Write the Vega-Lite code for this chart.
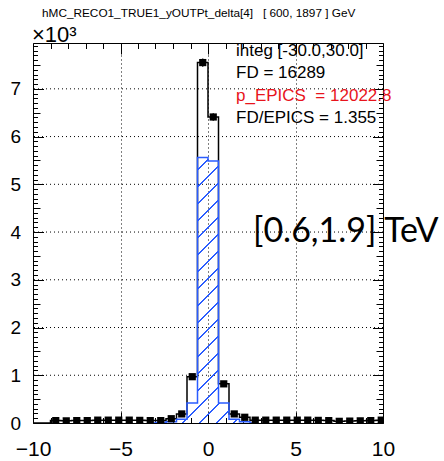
{
  "$schema": "https://vega.github.io/schema/vega-lite/v6.json",
  "width": 350,
  "height": 380,
  "autosize": "none",
  "padding": {"left": 33, "top": 43, "right": 61, "bottom": 38},
  "background": "white",
  "config": {"view": {"stroke": "black", "strokeWidth": 1}, "font": "Liberation Sans", "axis": {"grid": false}},
  "title": {"text": "hMC_RECO1_TRUE1_yOUTPt_delta[4]\u00a0\u00a0 [ 600, 1897 ] GeV", "anchor": "start", "frame": "group", "fontSize": 11.8, "fontWeight": "normal", "font": "Liberation Sans", "color": "black", "dx": 9, "offset": 4},
  "datasets": {
    "hist": [
      {"x": -10.5, "fd": 0},
      {"x": -9.9, "fd": 0},
      {"x": -9.3, "fd": 0},
      {"x": -8.7, "fd": 0.05},
      {"x": -8.1, "fd": 0.045},
      {"x": -7.5, "fd": 0.05},
      {"x": -6.9, "fd": 0.05},
      {"x": -6.3, "fd": 0.06},
      {"x": -5.7, "fd": 0.06},
      {"x": -5.1, "fd": 0.06},
      {"x": -4.5, "fd": 0.06},
      {"x": -3.9, "fd": 0.055},
      {"x": -3.3, "fd": 0.05, "ep": 0},
      {"x": -2.7, "fd": 0.05, "ep": 0.01},
      {"x": -2.1, "fd": 0.09, "ep": 0.025, "lo": 0.081, "hi": 0.099},
      {"x": -1.5, "fd": 0.19, "ep": 0.08, "lo": 0.176, "hi": 0.204},
      {"x": -0.9, "fd": 0.97, "ep": 0.42, "lo": 0.939, "hi": 1.001},
      {"x": -0.3, "fd": 7.55, "ep": 5.56, "lo": 7.463, "hi": 7.637},
      {"x": 0.3, "fd": 6.41, "ep": 5.49, "lo": 6.33, "hi": 6.49},
      {"x": 0.9, "fd": 0.82, "ep": 0.42, "lo": 0.791, "hi": 0.849},
      {"x": 1.5, "fd": 0.19, "ep": 0.08, "lo": 0.176, "hi": 0.204},
      {"x": 2.1, "fd": 0.12, "ep": 0.025, "lo": 0.109, "hi": 0.131},
      {"x": 2.7, "fd": 0.06, "ep": 0},
      {"x": 3.3, "fd": 0.06},
      {"x": 3.9, "fd": 0.06},
      {"x": 4.5, "fd": 0.06},
      {"x": 5.1, "fd": 0.06},
      {"x": 5.7, "fd": 0.06},
      {"x": 6.3, "fd": 0.055},
      {"x": 6.9, "fd": 0.05},
      {"x": 7.5, "fd": 0.035},
      {"x": 8.1, "fd": 0.04},
      {"x": 8.7, "fd": 0.045},
      {"x": 9.3, "fd": 0.05},
      {"x": 9.9, "fd": 0.06},
      {"x": 10.5, "fd": 0}
    ]
  },
  "layer": [
    {
      "data": {"name": "hist"},
      "mark": {"type": "line", "interpolate": "step", "color": "black", "strokeWidth": 1.5, "clip": true},
      "encoding": {
        "x": {"field": "x", "type": "quantitative", "scale": {"domain": [-10, 10], "nice": false, "zero": false},
          "axis": {"orient": "bottom", "title": null, "domain": false,
            "values": [-10,-9,-8,-7,-6,-5,-4,-3,-2,-1,0,1,2,3,4,5,6,7,8,9,10],
            "tickColor": "black", "tickWidth": 1,
            "tickSize": {"condition": {"test": "datum.value % 5 === 0", "value": -11}, "value": -5.5},
            "labelExpr": "datum.value % 5 === 0 ? datum.label : ''",
            "labelFont": "Liberation Sans", "labelFontSize": 21, "labelColor": "black", "labelPadding": 26, "labelFlush": false, "labelOverlap": false,
            "grid": true, "gridColor": "black", "gridDash": [1, 3], "gridWidth": 1,
            "gridOpacity": {"condition": {"test": "datum.value % 5 === 0 && abs(datum.value) < 10", "value": 1}, "value": 0}}},
        "y": {"field": "fd", "type": "quantitative", "scale": {"domain": [0, 7.96], "nice": false, "zero": false},
          "axis": {"orient": "left", "title": null, "domain": false, "grid": false,
            "values": [0,0.1,0.2,0.3,0.4,0.5,0.6,0.7,0.8,0.9,1,1.1,1.2,1.3,1.4,1.5,1.6,1.7,1.8,1.9,2,2.1,2.2,2.3,2.4,2.5,2.6,2.7,2.8,2.9,3,3.1,3.2,3.3,3.4,3.5,3.6,3.7,3.8,3.9,4,4.1,4.2,4.3,4.4,4.5,4.6,4.7,4.8,4.9,5,5.1,5.2,5.3,5.4,5.5,5.6,5.7,5.8,5.9,6,6.1,6.2,6.3,6.4,6.5,6.6,6.7,6.8,6.9,7,7.1,7.2,7.3,7.4,7.5,7.6,7.7,7.8,7.9],
            "tickColor": "black", "tickWidth": 1,
            "tickSize": {"condition": [{"test": "abs(datum.value - round(datum.value)) < 0.01", "value": -10.5}, {"test": "abs(datum.value * 2 - round(datum.value * 2)) < 0.01", "value": -7}], "value": -4.5},
            "labelExpr": "abs(datum.value - round(datum.value)) < 0.01 ? format(round(datum.value), 'd') : ''",
            "labelFont": "Liberation Sans", "labelFontSize": 19, "labelColor": "black", "labelPadding": 23, "labelOverlap": false, "labelFlush": false}}
      }
    },
    {
      "data": {"values": [{"g": 1}, {"g": 2}, {"g": 3}, {"g": 4}, {"g": 5}, {"g": 6}, {"g": 7}]},
      "mark": {"type": "rule", "color": "black", "strokeWidth": 1, "strokeDash": [1, 3]},
      "encoding": {
        "y": {"field": "g", "type": "quantitative", "axis": null}
      }
    },
    {
      "data": {"name": "hist"},
      "mark": {"type": "area", "interpolate": "step", "clip": true,
        "fill": {"gradient": "linear", "x1": 0, "y1": 0, "x2": 0.4774, "y2": 1.2068, "stops": [
          {"offset": 0.0207, "color": "rgba(255,255,255,0)"}, {"offset": 0.0207, "color": "#2a5cff"}, {"offset": 0.0253, "color": "#2a5cff"}, {"offset": 0.0253, "color": "rgba(255,255,255,0)"},
          {"offset": 0.0666, "color": "rgba(255,255,255,0)"}, {"offset": 0.0666, "color": "#2a5cff"}, {"offset": 0.0712, "color": "#2a5cff"}, {"offset": 0.0712, "color": "rgba(255,255,255,0)"},
          {"offset": 0.1125, "color": "rgba(255,255,255,0)"}, {"offset": 0.1125, "color": "#2a5cff"}, {"offset": 0.1171, "color": "#2a5cff"}, {"offset": 0.1171, "color": "rgba(255,255,255,0)"},
          {"offset": 0.1584, "color": "rgba(255,255,255,0)"}, {"offset": 0.1584, "color": "#2a5cff"}, {"offset": 0.1630, "color": "#2a5cff"}, {"offset": 0.1630, "color": "rgba(255,255,255,0)"},
          {"offset": 0.2043, "color": "rgba(255,255,255,0)"}, {"offset": 0.2043, "color": "#2a5cff"}, {"offset": 0.2089, "color": "#2a5cff"}, {"offset": 0.2089, "color": "rgba(255,255,255,0)"},
          {"offset": 0.2502, "color": "rgba(255,255,255,0)"}, {"offset": 0.2502, "color": "#2a5cff"}, {"offset": 0.2548, "color": "#2a5cff"}, {"offset": 0.2548, "color": "rgba(255,255,255,0)"},
          {"offset": 0.2961, "color": "rgba(255,255,255,0)"}, {"offset": 0.2961, "color": "#2a5cff"}, {"offset": 0.3007, "color": "#2a5cff"}, {"offset": 0.3007, "color": "rgba(255,255,255,0)"},
          {"offset": 0.3420, "color": "rgba(255,255,255,0)"}, {"offset": 0.3420, "color": "#2a5cff"}, {"offset": 0.3466, "color": "#2a5cff"}, {"offset": 0.3466, "color": "rgba(255,255,255,0)"},
          {"offset": 0.3879, "color": "rgba(255,255,255,0)"}, {"offset": 0.3879, "color": "#2a5cff"}, {"offset": 0.3925, "color": "#2a5cff"}, {"offset": 0.3925, "color": "rgba(255,255,255,0)"},
          {"offset": 0.4338, "color": "rgba(255,255,255,0)"}, {"offset": 0.4338, "color": "#2a5cff"}, {"offset": 0.4384, "color": "#2a5cff"}, {"offset": 0.4384, "color": "rgba(255,255,255,0)"},
          {"offset": 0.4797, "color": "rgba(255,255,255,0)"}, {"offset": 0.4797, "color": "#2a5cff"}, {"offset": 0.4843, "color": "#2a5cff"}, {"offset": 0.4843, "color": "rgba(255,255,255,0)"},
          {"offset": 0.5256, "color": "rgba(255,255,255,0)"}, {"offset": 0.5256, "color": "#2a5cff"}, {"offset": 0.5302, "color": "#2a5cff"}, {"offset": 0.5302, "color": "rgba(255,255,255,0)"},
          {"offset": 0.5715, "color": "rgba(255,255,255,0)"}, {"offset": 0.5715, "color": "#2a5cff"}, {"offset": 0.5761, "color": "#2a5cff"}, {"offset": 0.5761, "color": "rgba(255,255,255,0)"},
          {"offset": 0.6174, "color": "rgba(255,255,255,0)"}, {"offset": 0.6174, "color": "#2a5cff"}, {"offset": 0.6220, "color": "#2a5cff"}, {"offset": 0.6220, "color": "rgba(255,255,255,0)"},
          {"offset": 0.6633, "color": "rgba(255,255,255,0)"}, {"offset": 0.6633, "color": "#2a5cff"}, {"offset": 0.6679, "color": "#2a5cff"}, {"offset": 0.6679, "color": "rgba(255,255,255,0)"},
          {"offset": 0.7092, "color": "rgba(255,255,255,0)"}, {"offset": 0.7092, "color": "#2a5cff"}, {"offset": 0.7138, "color": "#2a5cff"}, {"offset": 0.7138, "color": "rgba(255,255,255,0)"},
          {"offset": 0.7551, "color": "rgba(255,255,255,0)"}, {"offset": 0.7551, "color": "#2a5cff"}, {"offset": 0.7597, "color": "#2a5cff"}, {"offset": 0.7597, "color": "rgba(255,255,255,0)"},
          {"offset": 0.8010, "color": "rgba(255,255,255,0)"}, {"offset": 0.8010, "color": "#2a5cff"}, {"offset": 0.8056, "color": "#2a5cff"}, {"offset": 0.8056, "color": "rgba(255,255,255,0)"},
          {"offset": 0.8469, "color": "rgba(255,255,255,0)"}, {"offset": 0.8469, "color": "#2a5cff"}, {"offset": 0.8515, "color": "#2a5cff"}, {"offset": 0.8515, "color": "rgba(255,255,255,0)"},
          {"offset": 0.8928, "color": "rgba(255,255,255,0)"}, {"offset": 0.8928, "color": "#2a5cff"}, {"offset": 0.8974, "color": "#2a5cff"}, {"offset": 0.8974, "color": "rgba(255,255,255,0)"},
          {"offset": 0.9387, "color": "rgba(255,255,255,0)"}, {"offset": 0.9387, "color": "#2a5cff"}, {"offset": 0.9433, "color": "#2a5cff"}, {"offset": 0.9433, "color": "rgba(255,255,255,0)"},
          {"offset": 0.9846, "color": "rgba(255,255,255,0)"}, {"offset": 0.9846, "color": "#2a5cff"}, {"offset": 0.9892, "color": "#2a5cff"}, {"offset": 0.9892, "color": "rgba(255,255,255,0)"}
        ]}},
      "encoding": {
        "x": {"field": "x", "type": "quantitative", "scale": {"domain": [-10, 10], "nice": false, "zero": false},
          "axis": {"orient": "top", "title": null, "domain": false, "labels": false, "grid": false,
            "values": [-10,-9,-8,-7,-6,-5,-4,-3,-2,-1,0,1,2,3,4,5,6,7,8,9,10],
            "tickColor": "black", "tickWidth": 1,
            "tickSize": {"condition": {"test": "datum.value % 5 === 0", "value": -11}, "value": -5.5}}},
        "y": {"field": "ep", "type": "quantitative", "scale": {"domain": [0, 7.96], "nice": false, "zero": false},
          "axis": {"orient": "right", "title": null, "domain": false, "labels": false, "grid": false,
            "values": [0,0.1,0.2,0.3,0.4,0.5,0.6,0.7,0.8,0.9,1,1.1,1.2,1.3,1.4,1.5,1.6,1.7,1.8,1.9,2,2.1,2.2,2.3,2.4,2.5,2.6,2.7,2.8,2.9,3,3.1,3.2,3.3,3.4,3.5,3.6,3.7,3.8,3.9,4,4.1,4.2,4.3,4.4,4.5,4.6,4.7,4.8,4.9,5,5.1,5.2,5.3,5.4,5.5,5.6,5.7,5.8,5.9,6,6.1,6.2,6.3,6.4,6.5,6.6,6.7,6.8,6.9,7,7.1,7.2,7.3,7.4,7.5,7.6,7.7,7.8,7.9],
            "tickColor": "black", "tickWidth": 1,
            "tickSize": {"condition": [{"test": "abs(datum.value - round(datum.value)) < 0.01", "value": -10.5}, {"test": "abs(datum.value * 2 - round(datum.value * 2)) < 0.01", "value": -7}], "value": -4.5}}}
      }
    },
    {
      "data": {"name": "hist"},
      "mark": {"type": "line", "interpolate": "step", "color": "#2a5cff", "strokeWidth": 1.5, "clip": true},
      "encoding": {
        "x": {"field": "x", "type": "quantitative", "axis": null},
        "y": {"field": "ep", "type": "quantitative", "axis": null}
      }
    },
    {
      "data": {"name": "hist"},
      "mark": {"type": "rule", "color": "black", "strokeWidth": 1.2, "clip": true},
      "encoding": {
        "x": {"field": "x", "type": "quantitative", "axis": null},
        "y": {"field": "lo", "type": "quantitative", "axis": null},
        "y2": {"field": "hi"}
      }
    },
    {
      "data": {"name": "hist"},
      "transform": [{"filter": "datum.fd > 0"}],
      "mark": {"type": "square", "color": "black", "filled": true, "opacity": 1, "size": 52, "clip": true},
      "encoding": {
        "x": {"field": "x", "type": "quantitative", "axis": null},
        "y": {"field": "fd", "type": "quantitative", "axis": null}
      }
    },
    {
      "data": {"values": [{"t": "ihteg [-30.0,30.0]"}]},
      "mark": {"type": "text", "align": "left", "baseline": "alphabetic", "fontSize": 17, "font": "Liberation Sans", "color": "black"},
      "encoding": {"x": {"datum": 1.6, "type": "quantitative", "axis": null}, "y": {"datum": 7.698, "type": "quantitative", "axis": null}, "text": {"field": "t"}}
    },
    {
      "data": {"values": [{"t": "FD = 16289"}]},
      "mark": {"type": "text", "align": "left", "baseline": "alphabetic", "fontSize": 17, "font": "Liberation Sans", "color": "black"},
      "encoding": {"x": {"datum": 1.6, "type": "quantitative", "axis": null}, "y": {"datum": 7.227, "type": "quantitative", "axis": null}, "text": {"field": "t"}}
    },
    {
      "data": {"values": [{"t": "p_EPICS\u00a0 = 12022.8"}]},
      "mark": {"type": "text", "align": "left", "baseline": "alphabetic", "fontSize": 17, "font": "Liberation Sans", "color": "#e8141c"},
      "encoding": {"x": {"datum": 1.6, "type": "quantitative", "axis": null}, "y": {"datum": 6.751, "type": "quantitative", "axis": null}, "text": {"field": "t"}}
    },
    {
      "data": {"values": [{"t": "FD/EPICS = 1.355"}]},
      "mark": {"type": "text", "align": "left", "baseline": "alphabetic", "fontSize": 17, "font": "Liberation Sans", "color": "black"},
      "encoding": {"x": {"datum": 1.6, "type": "quantitative", "axis": null}, "y": {"datum": 6.276, "type": "quantitative", "axis": null}, "text": {"field": "t"}}
    },
    {
      "data": {"values": [{"t": "[0.6,1.9] TeV"}]},
      "mark": {"type": "text", "align": "left", "baseline": "alphabetic", "fontSize": 34, "font": "Lato", "color": "black"},
      "encoding": {"x": {"datum": 2.571, "type": "quantitative", "axis": null}, "y": {"datum": 3.79, "type": "quantitative", "axis": null}, "text": {"field": "t"}}
    },
    {
      "data": {"values": [{"t": "×10³"}]},
      "mark": {"type": "text", "align": "left", "baseline": "alphabetic", "fontSize": 22, "font": "Liberation Sans", "color": "black", "dx": -1, "dy": -1},
      "encoding": {"x": {"datum": -10, "type": "quantitative", "axis": null}, "y": {"datum": 7.96, "type": "quantitative", "axis": null}, "text": {"field": "t"}}
    }
  ],
  "resolve": {"axis": {"x": "independent", "y": "independent"}}
}
